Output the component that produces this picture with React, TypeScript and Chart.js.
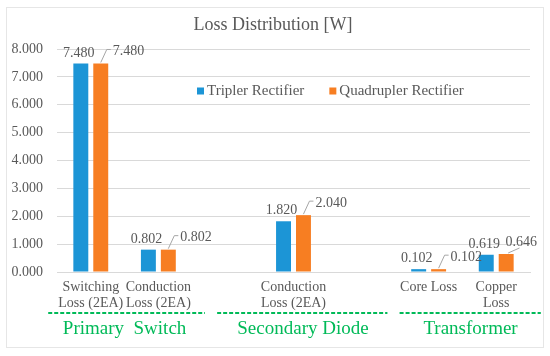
import React, { useEffect, useRef } from "react";
import { Chart, registerables } from "chart.js";

Chart.register(...registerables);

const chartTitle = "Loss Distribution [W]";
const categories: (string | string[])[] = [
  ["Switching", "Loss (2EA)"],
  ["Conduction", "Loss (2EA)"],
  "",
  ["Conduction", "Loss (2EA)"],
  "",
  "Core Loss",
  ["Copper", "Loss"],
];
const seriesNames = ["Tripler Rectifier", "Quadrupler Rectifier"];
const triplerValues = [7.48, 0.802, null, 1.82, null, 0.102, 0.619];
const quadruplerValues = [7.48, 0.802, null, 2.04, null, 0.102, 0.646];
const yMin = 0;
const yMax = 8;
const yStep = 1;

const groupLabels = ["Primary  Switch", "Secondary Diode", "Transformer"];
const groupCenters = [0.5, 3.14, 5.62];
const groupLineStarts = [-0.63, 1.87, 4.57];
const groupLineEnds = [1.69, 4.39, 6.66];

const BLUE = "#1C95D6";
const ORANGE = "#F77E22";
const GREEN = "#00BA58";
const TEXT = "#595959";
const GRID = "#d9d9d9";
const SERIF = '"Liberation Serif", "Times New Roman", serif';

const decorPlugin = {
  id: "decor",
  beforeDraw(chart: any) {
    const ctx = chart.ctx;
    ctx.save();
    ctx.fillStyle = "#ffffff";
    ctx.fillRect(0, 0, chart.width, chart.height);
    ctx.strokeStyle = "#e6e6e6";
    ctx.lineWidth = 1;
    ctx.strokeRect(6.5, 7.5, 537, 340);
    ctx.restore();
  },
  afterDatasetsDraw(chart: any) {
    const ctx = chart.ctx;
    const area = chart.chartArea;
    ctx.save();
    // title
    ctx.fillStyle = TEXT;
    ctx.font = `18px ${SERIF}`;
    ctx.textAlign = "center";
    ctx.textBaseline = "middle";
    ctx.fillText(chartTitle, 273, 25);

    // legend
    ctx.font = `15px ${SERIF}`;
    ctx.textAlign = "left";
    let lx = area.left + 140;
    const ly = area.top + 42;
    [BLUE, ORANGE].forEach((c, i) => {
      ctx.fillStyle = c;
      ctx.fillRect(lx, ly - 3.5, 7, 7);
      ctx.fillStyle = TEXT;
      ctx.fillText(seriesNames[i], lx + 10, ly);
      lx += 10 + ctx.measureText(seriesNames[i]).width + 25;
    });

    // data labels
    ctx.font = `14px ${SERIF}`;
    const m0 = chart.getDatasetMeta(0);
    const m1 = chart.getDatasetMeta(1);
    triplerValues.forEach((v, i) => {
      if (v == null) return;
      const el = m0.data[i];
      ctx.fillStyle = TEXT;
      ctx.textAlign = "center";
      ctx.fillText(v.toFixed(3), el.x - 2, el.y - 10.5);
    });
    quadruplerValues.forEach((v, i) => {
      if (v == null) return;
      const el = m1.data[i];
      const txt = v.toFixed(3);
      const w = ctx.measureText(txt).width;
      const x = Math.min(el.x + 12, area.right + 7 - w);
      const y = el.y - 12;
      ctx.strokeStyle = "#a6a6a6";
      ctx.lineWidth = 1;
      ctx.beginPath();
      if (x > el.x + 5) {
        ctx.moveTo(el.x, el.y - 1);
        ctx.lineTo(x - 6, y - 2);
        ctx.lineTo(x - 2, y - 2);
      } else {
        ctx.moveTo(el.x + 2, el.y - 1);
        ctx.lineTo(x + 14, y + 6);
      }
      ctx.stroke();
      ctx.fillStyle = TEXT;
      ctx.textAlign = "left";
      ctx.fillText(txt, x, y);
    });

    // group annotations
    const xs = chart.scales.x;
    ctx.strokeStyle = GREEN;
    ctx.lineWidth = 2;
    ctx.setLineDash([4, 2]);
    groupLabels.forEach((_, i) => {
      const a = xs.getPixelForValue(groupLineStarts[i]);
      const b = xs.getPixelForValue(groupLineEnds[i]);
      ctx.beginPath();
      ctx.moveTo(a, 313);
      ctx.lineTo(b, 313);
      ctx.stroke();
    });
    ctx.setLineDash([]);
    ctx.fillStyle = GREEN;
    ctx.font = `19px ${SERIF}`;
    ctx.textAlign = "center";
    groupLabels.forEach((g, i) => {
      ctx.fillText(g, xs.getPixelForValue(groupCenters[i]), 329);
    });
    ctx.restore();
  },
};

export default function App() {
  const ref = useRef<HTMLCanvasElement>(null);
  useEffect(() => {
    document.body.style.margin = "0";
    const chart = new Chart(ref.current as HTMLCanvasElement, {
      type: "bar",
      data: {
        labels: categories as any,
        datasets: [
          {
            label: seriesNames[0],
            data: triplerValues as any,
            backgroundColor: BLUE,
            categoryPercentage: 0.59,
            barPercentage: 0.75,
          },
          {
            label: seriesNames[1],
            data: quadruplerValues as any,
            backgroundColor: ORANGE,
            categoryPercentage: 0.59,
            barPercentage: 0.75,
          },
        ],
      },
      options: {
        responsive: false,
        animation: false,
        layout: { padding: { top: 49, right: 20, left: 0, bottom: 0 } },
        plugins: {
          legend: { display: false },
          title: { display: false },
          tooltip: { enabled: false },
        },
        scales: {
          x: {
            grid: { display: false, drawTicks: false },
            border: { color: GRID },
            ticks: {
              font: { family: SERIF, size: 14, lineHeight: 1.15 },
              color: TEXT,
              padding: 7,
              maxRotation: 0,
              autoSkip: false,
            },
            afterFit: (s: any) => {
              s.height = 84;
            },
          },
          y: {
            min: yMin,
            max: yMax,
            ticks: {
              stepSize: yStep,
              callback: (v: any) => Number(v).toFixed(3),
              font: { family: SERIF, size: 14 },
              color: TEXT,
              padding: 14,
            },
            grid: { color: GRID, drawTicks: false },
            border: { display: false },
            afterFit: (s: any) => {
              s.width = 57;
            },
          },
        },
      },
      plugins: [decorPlugin],
    });
    return () => chart.destroy();
  }, []);
  return (
    <div style={{ width: 550, height: 356 }}>
      <canvas ref={ref} width={550} height={356} />
    </div>
  );
}
